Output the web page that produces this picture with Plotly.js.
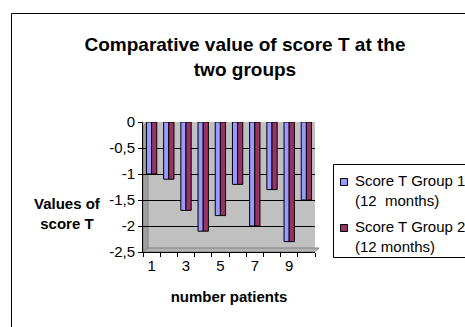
<!DOCTYPE html>
<html>
<head>
<meta charset="utf-8">
<script src="https://cdn.plot.ly/plotly-3.0.1.min.js"></script>
<style>
html,body{margin:0;padding:0;background:#fff;}
#chart{width:465px;height:327px;}
</style>
</head>
<body>
<div id="chart"></div>
<script>
const patients = ["1","2","3","4","5","6","7","8","9","10"];
const group1 = [-1,-1.1,-1.7,-2.1,-1.8,-1.2,-2,-1.3,-2.3,-1.5];
const group2 = [-1,-1.1,-1.7,-2.1,-1.8,-1.2,-2,-1.3,-2.3,-1.5];
const seriesNames = ["Score T Group 1<br>(12  months)", "Score T Group 2<br>(12 months)"];
const seriesColors = ["#9999FF", "#993366"];
const yTickVals = [0,-0.5,-1,-1.5,-2,-2.5];
const yTickText = ["0","-0,5","-1","-1,5","-2","-2,5"];
const xTickText = ["1","","3","","5","","7","","9",""];

const W = 465, H = 327;
const M = {l:143, r:150, t:122, b:75};
const pw = W - M.l - M.r, ph = H - M.t - M.b;
const px = x => (x - M.l) / pw;
const py = y => (H - M.b - y) / ph;

const font = "Liberation Sans, Arial, sans-serif";

const traces = [group1, group2].map((vals, i) => ({
  type: 'bar',
  x: patients,
  y: vals,
  name: seriesNames[i].replace('<br>', ' '),
  marker: {color: seriesColors[i], line: {color: '#000', width: 1}},
  showlegend: false
}));

const P = (pts) => 'M' + pts.map(p => px(p[0]) + ',' + py(p[1])).join('L') + 'Z';

const shapes = [
  // chart area frame
  {type:'rect', xref:'paper', yref:'paper', x0:px(11.5), x1:px(700), y0:py(13.5), y1:py(500),
   line:{color:'#000', width:1}, fillcolor:'rgba(0,0,0,0)'},
  // side wall and floor (3-D look)
  {type:'path', xref:'paper', yref:'paper', layer:'below', path:P([[143,126],[148,122],[148,248],[143,252]]),
   line:{color:'#808080', width:1}, fillcolor:'#A0A0A0'},
  {type:'path', xref:'paper', yref:'paper', layer:'below', path:P([[143,252],[148,248],[319,248],[314,252]]),
   line:{color:'#808080', width:1}, fillcolor:'#B4B4B4'},
  // legend box and keys
  {type:'rect', xref:'paper', yref:'paper', x0:px(333.5), x1:px(700), y0:py(164.5), y1:py(257.5),
   line:{color:'#000', width:1}, fillcolor:'#fff'},
  {type:'rect', xref:'paper', yref:'paper', x0:px(340.5), x1:px(347.5), y0:py(178.5), y1:py(185.5),
   line:{color:'#000', width:1}, fillcolor:seriesColors[0]},
  {type:'rect', xref:'paper', yref:'paper', x0:px(340.5), x1:px(347.5), y0:py(224.5), y1:py(231.5),
   line:{color:'#000', width:1}, fillcolor:seriesColors[1]}
];

const annotations = [
  {text:"<b>Values of<br>score T</b>", xref:'paper', yref:'paper', x:px(67), y:py(213),
   showarrow:false, xanchor:'center', yanchor:'middle', font:{family:font, size:15, color:'#000'}},
  {text:seriesNames[0], xref:'paper', yref:'paper', x:px(353), y:py(190.5),
   showarrow:false, xanchor:'left', yanchor:'middle', align:'left', font:{family:font, size:15, color:'#000'}},
  {text:seriesNames[1], xref:'paper', yref:'paper', x:px(353), y:py(236.5),
   showarrow:false, xanchor:'left', yanchor:'middle', align:'left', font:{family:font, size:15, color:'#000'}}
];

const layout = {
  width: W, height: H,
  margin: M,
  paper_bgcolor: '#fff',
  plot_bgcolor: '#C0C0C0',
  barmode: 'group',
  bargap: 0.4,
  bargroupgap: 0,
  showlegend: false,
  title: {text: "<b>Comparative value of score T at the<br>two groups</b>",
          font:{family:font, size:19, color:'#000'}, x:245/W, xanchor:'center', xref:'container',
          y: 1 - 51/H, yanchor:'top', yref:'container'},
  xaxis: {
    type:'category', tickvals:patients, ticktext:xTickText, tickson:'boundaries',
    showgrid:false, zeroline:false, showline:true, linecolor:'#000', linewidth:1,
    ticks:'outside', ticklen:4, tickcolor:'#000', tickangle:0,
    tickfont:{family:font, size:15, color:'#000'},
    title:{text:"<b>number patients</b>", font:{family:font, size:15, color:'#000'}, standoff:18}
  },
  yaxis: {
    range:[-2.5,0], tickvals:yTickVals, ticktext:yTickText,
    showgrid:true, gridcolor:'#000', gridwidth:1, zeroline:false,
    showline:true, linecolor:'#000', linewidth:1,
    ticks:'outside', ticklen:4, tickcolor:'#000',
    tickfont:{family:font, size:15, color:'#000'}
  },
  shapes: shapes,
  annotations: annotations
};

Plotly.newPlot('chart', traces, layout, {displayModeBar:false, staticPlot:true});
</script>
</body>
</html>
